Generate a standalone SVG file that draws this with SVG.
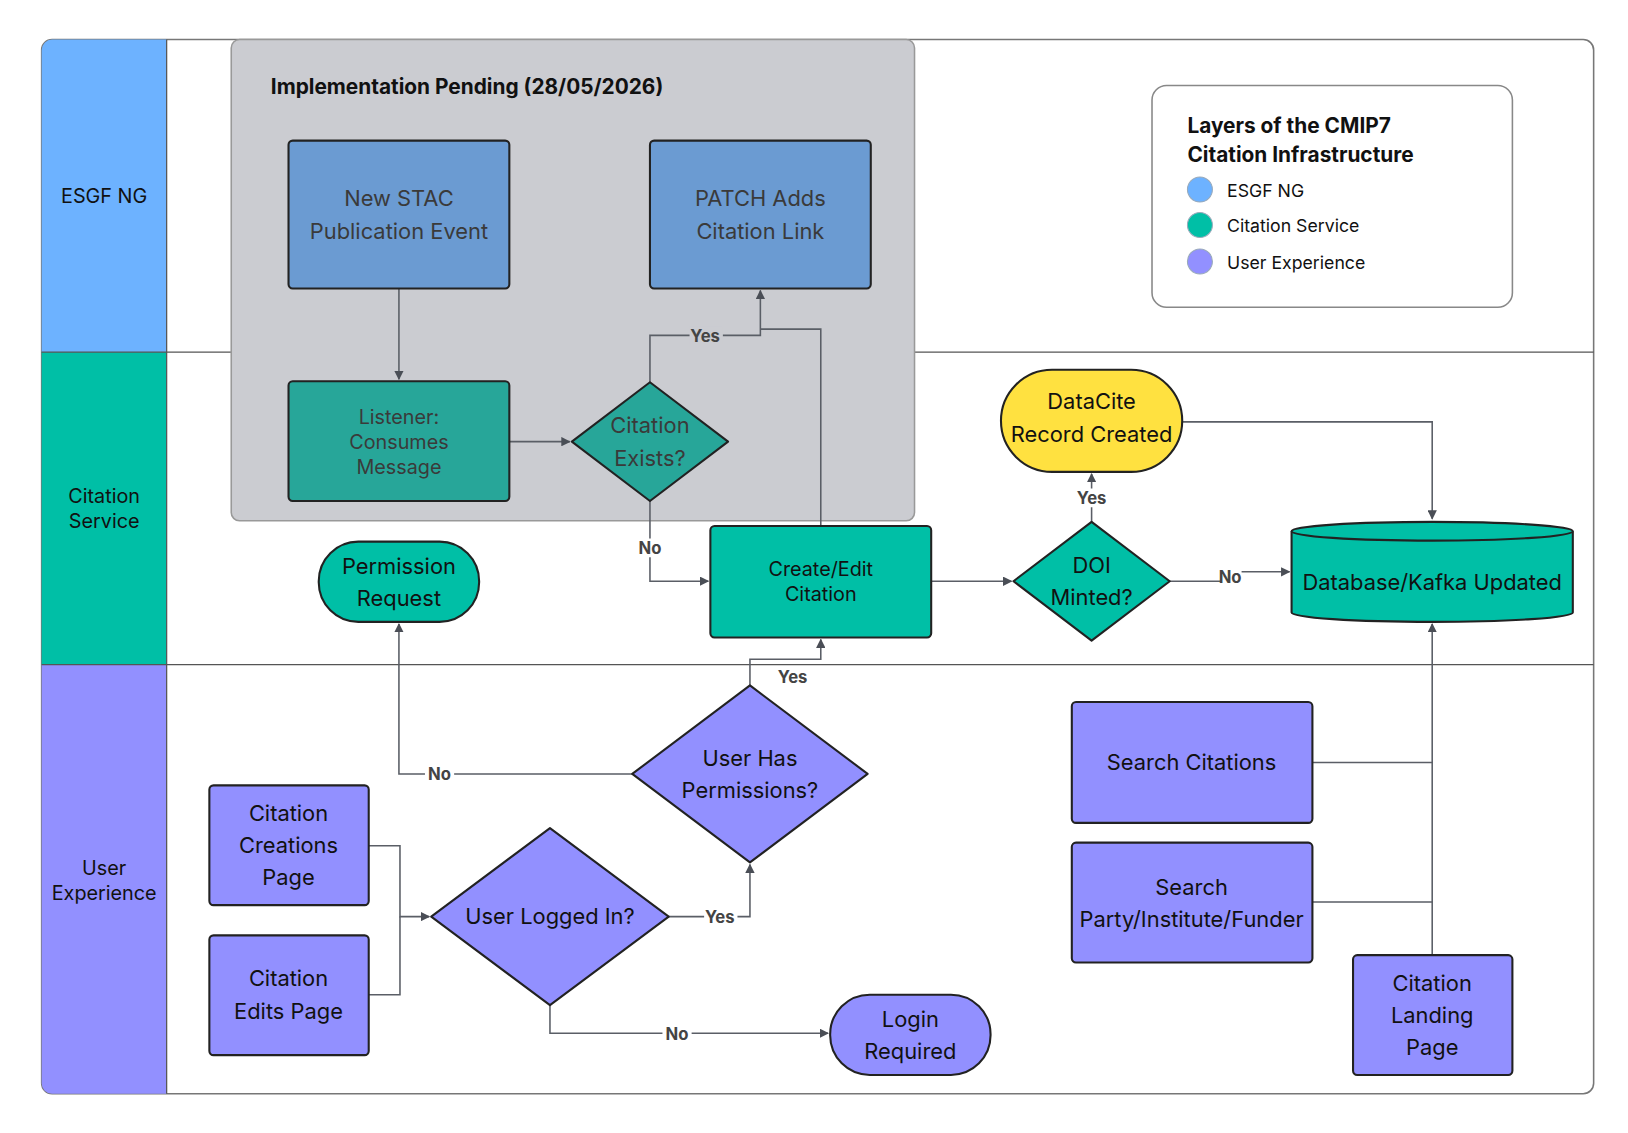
<svg xmlns="http://www.w3.org/2000/svg" width="1628" height="1133" viewBox="0 0 1628 1133">
<style>
text{font-family:Inter,"Noto Sans","Liberation Sans",sans-serif;text-anchor:middle;fill:#111}
.n{stroke:#222;stroke-width:2}
.dim{fill:#3a3a3a}
.lane{font-size:19px}
.t{font-size:21px}
.lbl{font-size:16px;font-weight:bold;fill:#444}
.c{fill:none;stroke:#5a5e66;stroke-width:1.5}
.lg{font-size:17px;text-anchor:start}
</style>
<defs>
<marker id="a" viewBox="0 0 10 10" refX="9" refY="5" markerWidth="9" markerHeight="9" markerUnits="userSpaceOnUse" orient="auto"><path d="M0 0L10 5L0 10z" fill="#4a4e56"/></marker>
</defs>
<rect width="1628" height="1133" fill="#fff"/>
<g transform="scale(1.0416)">
<g id="lanes">
<rect x="40" y="38" width="1490" height="1012" rx="10" fill="#fff" stroke="#777" stroke-width="1.5"/>
<path d="M40 48a10 10 0 0 1 10-10H160V338H40z" fill="#6db2ff"/>
<rect x="40" y="338" width="120" height="300" fill="#00bfa6"/>
<path d="M40 638H160V1050H50a10 10 0 0 1-10-10z" fill="#9290ff"/>
<path d="M160 38V1050M40 338H1530M40 638H1530" stroke="#555" stroke-width="1.2"/>
<text x="100" y="195" class="lane">ESGF NG</text>
<text x="100" y="483" class="lane">Citation</text><text x="100" y="507" class="lane">Service</text>
<text x="100" y="840" class="lane">User</text><text x="100" y="864" class="lane">Experience</text>
</g>
<g id="pending">
<rect x="222" y="38" width="656" height="462" rx="8" fill="#cbccd1" stroke="#999" stroke-width="1.5"/>
<text x="260" y="90" style="text-anchor:start;font-size:20px;font-weight:bold">Implementation Pending (28/05/2026)</text>
</g>
<g id="legend">
<rect x="1106" y="82" width="346" height="213" rx="14" fill="#fff" stroke="#888" stroke-width="1.5"/>
<text x="1140" y="128" style="text-anchor:start;font-size:20px;font-weight:bold">Layers of the CMIP7</text>
<text x="1140" y="156" style="text-anchor:start;font-size:20px;font-weight:bold">Citation Infrastructure</text>
<circle cx="1152" cy="182" r="12" fill="#6db2ff" stroke="#9ab" stroke-width="1"/><text x="1178" y="189" class="lg">ESGF NG</text>
<circle cx="1152" cy="216" r="12" fill="#00bfa6" stroke="#9ab" stroke-width="1"/><text x="1178" y="223" class="lg">Citation Service</text>
<circle cx="1152" cy="251" r="12" fill="#9290ff" stroke="#9ab" stroke-width="1"/><text x="1178" y="258" class="lg">User Experience</text>
</g>
<g id="connectors">
<path class="c" d="M383 277V364" marker-end="url(#a)"/>
<path class="c" d="M489 424H547" marker-end="url(#a)"/>
<path class="c" d="M624 367V322H730V279" marker-end="url(#a)"/>
<path class="c" d="M788 505V316H730"/>
<path class="c" d="M624 481V558H680" marker-end="url(#a)"/>
<path class="c" d="M894 558H971" marker-end="url(#a)"/>
<path class="c" d="M1048 501V455" marker-end="url(#a)"/>
<path class="c" d="M1123 558H1172M1192 549H1238" marker-end="url(#a)"/>
<path class="c" d="M1135 405H1375V498" marker-end="url(#a)"/>
<path class="c" d="M720 658V633H788V614" marker-end="url(#a)"/>
<path class="c" d="M607 743H383V599" marker-end="url(#a)"/>
<path class="c" d="M354 812H384V880H412" marker-end="url(#a)"/>
<path class="c" d="M354 955H384V880"/>
<path class="c" d="M642 880H720V830" marker-end="url(#a)"/>
<path class="c" d="M528 965V992H795" marker-end="url(#a)"/>
<path class="c" d="M1260 732H1375V599" marker-end="url(#a)"/>
<path class="c" d="M1260 866H1375M1375 917V732"/>
<g class="lbl">
<rect x="662" y="313" width="32" height="18" fill="#cbccd1"/><text x="677" y="328" class="lbl">Yes</text>
<rect x="610" y="517" width="28" height="18" fill="#fff"/><text x="624" y="532" class="lbl">No</text>
<rect x="1033" y="469" width="30" height="18" fill="#fff"/><text x="1048" y="484" class="lbl">Yes</text>
<text x="1181" y="560" class="lbl">No</text>
<text x="761" y="656" class="lbl">Yes</text>
<rect x="408" y="734" width="28" height="18" fill="#fff"/><text x="422" y="749" class="lbl">No</text>
<rect x="676" y="871" width="32" height="18" fill="#fff"/><text x="691" y="886" class="lbl">Yes</text>
<rect x="636" y="983" width="28" height="18" fill="#fff"/><text x="650" y="998" class="lbl">No</text>
</g>
</g>
<g id="newstac"><rect class="n" x="277" y="135" width="212" height="142" rx="4" fill="#6b9bd2"/><text x="383" y="198" class="t dim">New STAC</text><text x="383" y="229" class="t dim">Publication Event</text></g>
<g id="patch"><rect class="n" x="624" y="135" width="212" height="142" rx="4" fill="#6b9bd2"/><text x="730" y="198" class="t dim">PATCH Adds</text><text x="730" y="229" class="t dim">Citation Link</text></g>
<g id="listener"><rect class="n" x="277" y="366" width="212" height="115" rx="4" fill="#27a699"/><text x="383" y="407" class="dim" style="font-size:19px">Listener:</text><text x="383" y="431" class="dim" style="font-size:19px">Consumes</text><text x="383" y="455" class="dim" style="font-size:19px">Message</text></g>
<g id="exists"><path class="n" d="M624 367L699 424L624 481L549 424z" fill="#27a699" stroke-linejoin="round"/><text x="624" y="416" class="t dim">Citation</text><text x="624" y="447" class="t dim">Exists?</text></g>
<g id="create"><rect class="n" x="682" y="505" width="212" height="107" rx="4" fill="#00bfa6"/><text x="788" y="553" style="font-size:19px">Create/Edit</text><text x="788" y="577" style="font-size:19px">Citation</text></g>
<g id="permreq"><rect class="n" x="306" y="520" width="154" height="77" rx="38" fill="#00bfa6"/><text x="383" y="551" class="t">Permission</text><text x="383" y="582" class="t">Request</text></g>
<g id="datacite"><rect class="n" x="961" y="355" width="174" height="98" rx="49" fill="#ffe140"/><text x="1048" y="393" class="t">DataCite</text><text x="1048" y="424" class="t">Record Created</text></g>
<g id="doi"><path class="n" d="M1048 501L1123 558L1048 615L973 558z" fill="#00bfa6" stroke-linejoin="round"/><text x="1048" y="550" class="t">DOI</text><text x="1048" y="581" class="t">Minted?</text></g>
<g id="db"><path class="n" d="M1240 510V588A135 9 0 0 0 1510 588V510" fill="#00bfa6"/><ellipse class="n" cx="1375" cy="510" rx="135" ry="9" fill="#00bfa6"/><text x="1375" y="566" class="t">Database/Kafka Updated</text></g>
<g id="hasperm"><path class="n" d="M720 658L833 743L720 828L607 743z" fill="#9290ff" stroke-linejoin="round"/><text x="720" y="735" class="t">User Has</text><text x="720" y="766" class="t">Permissions?</text></g>
<g id="loggedin"><path class="n" d="M528 795L642 880L528 965L414 880z" fill="#9290ff" stroke-linejoin="round"/><text x="528" y="887" class="t">User Logged In?</text></g>
<g id="creations"><rect class="n" x="201" y="754" width="153" height="115" rx="4" fill="#9290ff"/><text x="277" y="788" class="t">Citation</text><text x="277" y="819" class="t">Creations</text><text x="277" y="850" class="t">Page</text></g>
<g id="edits"><rect class="n" x="201" y="898" width="153" height="115" rx="4" fill="#9290ff"/><text x="277" y="947" class="t">Citation</text><text x="277" y="978" class="t">Edits Page</text></g>
<g id="login"><rect class="n" x="797" y="955" width="154" height="77" rx="38" fill="#9290ff"/><text x="874" y="986" class="t">Login</text><text x="874" y="1017" class="t">Required</text></g>
<g id="searchcit"><rect class="n" x="1029" y="674" width="231" height="116" rx="4" fill="#9290ff"/><text x="1144" y="739" class="t">Search Citations</text></g>
<g id="searchparty"><rect class="n" x="1029" y="809" width="231" height="115" rx="4" fill="#9290ff"/><text x="1144" y="859" class="t">Search</text><text x="1144" y="890" class="t">Party/Institute/Funder</text></g>
<g id="landing"><rect class="n" x="1299" y="917" width="153" height="115" rx="4" fill="#9290ff"/><text x="1375" y="951" class="t">Citation</text><text x="1375" y="982" class="t">Landing</text><text x="1375" y="1013" class="t">Page</text></g>
</g>
</svg>
